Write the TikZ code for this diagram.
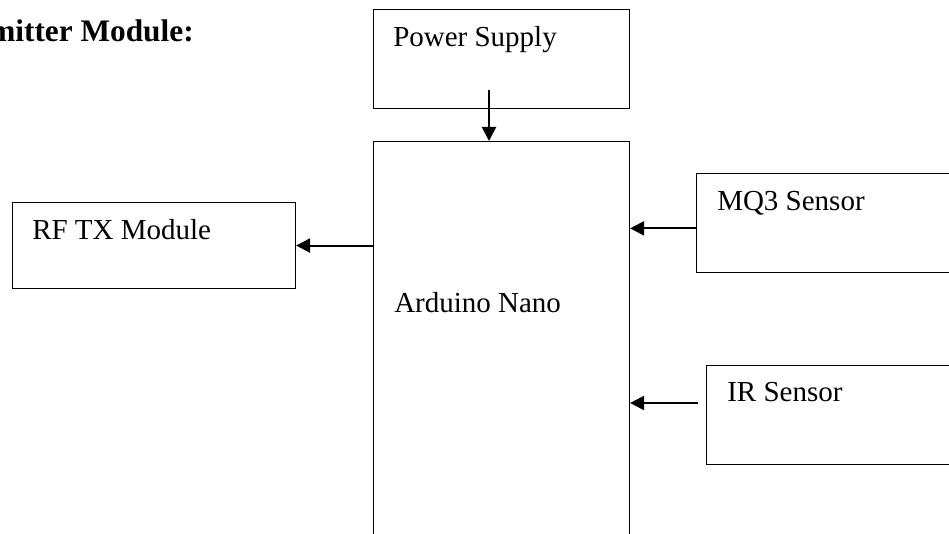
\documentclass[tikz,border=0pt]{standalone}
\usepackage{fontspec}
\setmainfont{Liberation Serif}
\usetikzlibrary{arrows.meta, positioning, calc}
\tikzset{
  block/.style={draw=black, line width=0.8pt, rectangle, anchor=north west, inner sep=0pt, fill=none},
  boxtext/.style={anchor=base west, inner sep=0pt, font=\fontsize{21.75}{26}\selectfont},
  titletext/.style={anchor=base east, inner sep=0pt, font=\fontsize{23.5}{28}\selectfont\bfseries},
  arrow/.style={-{Triangle[length=10.5pt, width=10.5pt]}, line width=1.5pt, draw=black}
}
\begin{document}
\begin{tikzpicture}[x=0.75pt, y=-0.75pt]
\useasboundingbox (0,0) rectangle (949,534);
\node[titletext] (title) at (194,42) {Transmitter Module:};

% blocks
\node[block, minimum width=192pt, minimum height=74.25pt] (power) at (373,9) {};
\node[block, minimum width=192pt, minimum height=320pt] (nano) at (373,141) {};
\node[block, minimum width=212.25pt, minimum height=64.5pt] (rf) at (12,202) {};
\node[block, minimum width=213pt, minimum height=74.25pt] (mq3) at (696,173) {};
\node[block, minimum width=205.5pt, minimum height=74.25pt] (ir) at (706,365) {};

% labels
\node[boxtext] (powerlbl) at (393,47) {Power Supply};
\node[boxtext] (nanolbl) at (394,313) {Arduino Nano};
\node[boxtext] (rflbl) at (32,240) {RF TX Module};
\node[boxtext] (mq3lbl) at (717,211) {MQ3 Sensor};
\node[boxtext] (irlbl) at (727,402) {IR Sensor};

% connectors
\coordinate (pwrout) at (489,90);
\coordinate (irout) at (698,403);
\draw[arrow] (pwrout) -- (pwrout |- nano.north);
\draw[arrow] (rf.east -| nano.west) -- (rf.east);
\draw[arrow] ([yshift=-4pt]mq3.west) -- ([yshift=-4pt]mq3.west -| nano.east);
\draw[arrow] (irout) -- (irout -| nano.east);
\end{tikzpicture}
\end{document}
